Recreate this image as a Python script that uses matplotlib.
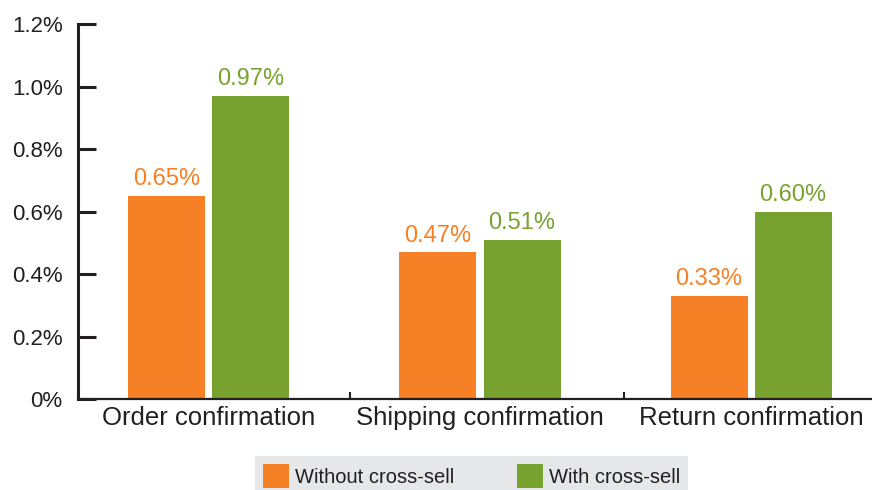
import numpy as np
import matplotlib.pyplot as plt
from matplotlib.patches import Patch

categories = ['Order confirmation', 'Shipping confirmation', 'Return confirmation']
without_xsell = [0.65, 0.47, 0.33]
with_xsell = [0.97, 0.51, 0.60]
series_names = ['Without cross-sell', 'With cross-sell']
yticks = [0, 0.2, 0.4, 0.6, 0.8, 1.0, 1.2]
ytick_labels = ['0%', '0.2%', '0.4%', '0.6%', '0.8%', '1.0%', '1.2%']

orange = '#f58025'
green = '#78a22f'
dark = '#231f20'

plt.rcParams['font.family'] = ['Liberation Sans', 'DejaVu Sans']

fig = plt.figure(figsize=(8.72, 4.9), dpi=100)
ax = fig.add_axes([0.0894, 0.1857, 0.9106, 0.765])

x = np.arange(len(categories))
w = 0.284
off = 0.155
b1 = ax.bar(x - off, without_xsell, w, color=orange)
b2 = ax.bar(x + off, with_xsell, w, color=green)

for bars, vals, c in [(b1, without_xsell, orange), (b2, with_xsell, green)]:
    for b, v in zip(bars, vals):
        ax.annotate('%.2f%%' % v, (b.get_x() + b.get_width() / 2, v),
                    xytext=(0, 4), textcoords='offset points',
                    ha='center', va='bottom', color=c, fontsize=17)

ax.set_xlim(-0.483, 2.446)
ax.set_ylim(0, 1.2)
ax.set_yticks(yticks)
ax.set_yticklabels(ytick_labels)
ax.set_xticks(x)
ax.set_xticklabels(categories)
ax.set_xticks([0.52, 1.53], minor=True)

ax.spines['top'].set_visible(False)
ax.spines['right'].set_visible(False)
ax.spines['left'].set_linewidth(2.2)
ax.spines['bottom'].set_linewidth(1.6)
ax.spines['left'].set_color(dark)
ax.spines['bottom'].set_color(dark)

ax.tick_params(axis='y', direction='in', length=13, width=2.2, pad=11,
               labelsize=16, colors=dark)
ax.tick_params(axis='x', which='major', length=0, pad=5, labelsize=18.5,
               colors=dark)
ax.tick_params(axis='x', which='minor', direction='in', length=5, width=1.5,
               colors=dark)

handles = [Patch(facecolor=orange), Patch(facecolor=green)]
leg = fig.legend(handles, series_names, loc='lower center',
                 bbox_to_anchor=(0.541, -0.012), ncol=2, fontsize=14.5,
                 frameon=True, fancybox=False, facecolor='#e6e7e8',
                 edgecolor='none', framealpha=1, handlelength=1.3,
                 handleheight=1.45, handletextpad=0.3, columnspacing=3.1,
                 borderpad=0.4, borderaxespad=0)
for t in leg.get_texts():
    t.set_color(dark)

fig.savefig('out.png', dpi=100)
